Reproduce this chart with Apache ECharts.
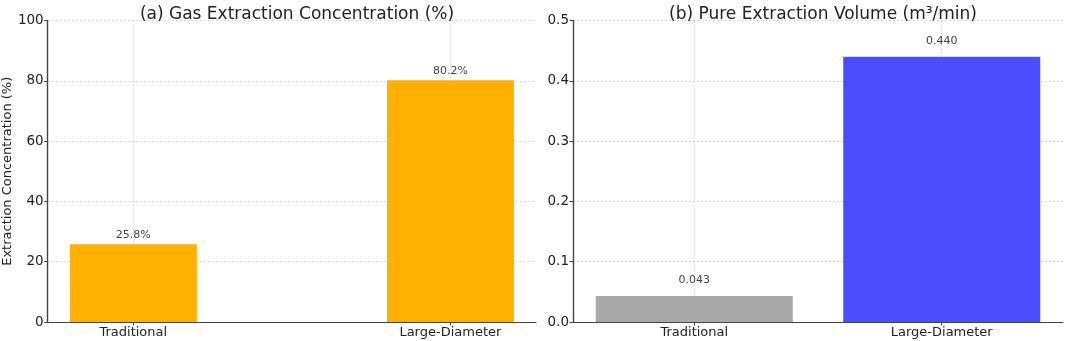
<!DOCTYPE html>
<html>
<head>
<meta charset="utf-8">
<script src="https://cdn.jsdelivr.net/npm/echarts@6/dist/echarts.min.js"></script>
<style>
  html, body { margin: 0; padding: 0; background: #fff; }
  #chart { width: 1065px; height: 341px; }
</style>
</head>
<body>
<div id="chart"></div>
<script>
const categories = ['Traditional', 'Large-Diameter'];
const concentration = [25.8, 80.2];
const volume = [0.043, 0.440];
const concTicks = [0, 20, 40, 60, 80, 100];
const volumeTicks = [0.0, 0.1, 0.2, 0.3, 0.4, 0.5];
const volumeColors = ['#A9A9A9', '#4B4BFF'];

const font = 'DejaVu Sans';
const axisDark = '#444';

function xAxisFor(gridIndex, min, max) {
  return {
    type: 'value',
    gridIndex: gridIndex,
    min: min,
    max: max,
    axisLine: { show: true, onZero: false, lineStyle: { color: axisDark, width: 1.2 } },
    axisTick: { show: true, customValues: [0, 1], length: 3.5, lineStyle: { color: axisDark } },
    axisLabel: {
      customValues: [0, 1],
      color: '#222',
      fontFamily: font,
      fontSize: 13,
      margin: 4,
      formatter: v => categories[Math.round(v)]
    },
    splitLine: { show: true, lineStyle: { color: '#ccc', type: [2, 2], width: 0.8 } }
  };
}

function yAxisFor(gridIndex, ticks, fmt, name) {
  return {
    type: 'value',
    gridIndex: gridIndex,
    min: ticks[0],
    max: ticks[ticks.length - 1],
    interval: ticks[1] - ticks[0],
    name: name,
    nameLocation: 'middle',
    nameGap: 32,
    nameTextStyle: { color: '#222', fontFamily: font, fontSize: 13 },
    axisLine: { show: true, onZero: false, lineStyle: { color: axisDark, width: 1.4 } },
    axisTick: { show: true, length: 3.5, lineStyle: { color: axisDark } },
    axisLabel: { color: '#222', fontFamily: font, fontSize: 13.5, margin: 4, formatter: fmt },
    splitLine: { show: true, lineStyle: { color: '#ccc', type: [2, 2], width: 0.8 } }
  };
}

const chart = echarts.init(document.getElementById('chart'));
chart.setOption({
  animation: false,
  backgroundColor: '#fff',
  title: [
    {
      text: '(a) Gas Extraction Concentration (%)',
      left: 292, top: 1, textAlign: 'center',
      textStyle: { fontFamily: font, fontSize: 17, fontWeight: 'normal', color: '#222' }
    },
    {
      text: '(b) Pure Extraction Volume (m³/min)',
      left: 818, top: 1, textAlign: 'center',
      textStyle: { fontFamily: font, fontSize: 17, fontWeight: 'normal', color: '#222' }
    }
  ],
  grid: [
    { left: 46, right: 529, top: 20.5, bottom: 19 },
    { left: 573, right: 2, top: 20.5, bottom: 19 }
  ],
  xAxis: [
    xAxisFor(0, -0.27, 1.27),
    xAxisFor(1, -0.49, 1.49)
  ],
  yAxis: [
    yAxisFor(0, concTicks, v => String(v), 'Extraction Concentration (%)'),
    yAxisFor(1, volumeTicks, v => v.toFixed(1), '')
  ],
  series: [
    {
      type: 'bar',
      xAxisIndex: 0,
      yAxisIndex: 0,
      barWidth: 127,
      data: concentration.map((v, i) => [i, v]),
      itemStyle: { color: '#FFB000' },
      label: {
        show: true, position: 'top', distance: 4,
        color: '#444', fontFamily: font, fontSize: 11,
        formatter: p => p.value[1].toFixed(1) + '%'
      }
    },
    {
      type: 'bar',
      xAxisIndex: 1,
      yAxisIndex: 1,
      barWidth: 197,
      data: volume.map((v, i) => ({ value: [i, v], itemStyle: { color: volumeColors[i] } })),
      label: {
        show: true, position: 'top', distance: 10,
        color: '#444', fontFamily: font, fontSize: 11,
        formatter: p => p.value[1].toFixed(3)
      }
    }
  ]
});
</script>
</body>
</html>
